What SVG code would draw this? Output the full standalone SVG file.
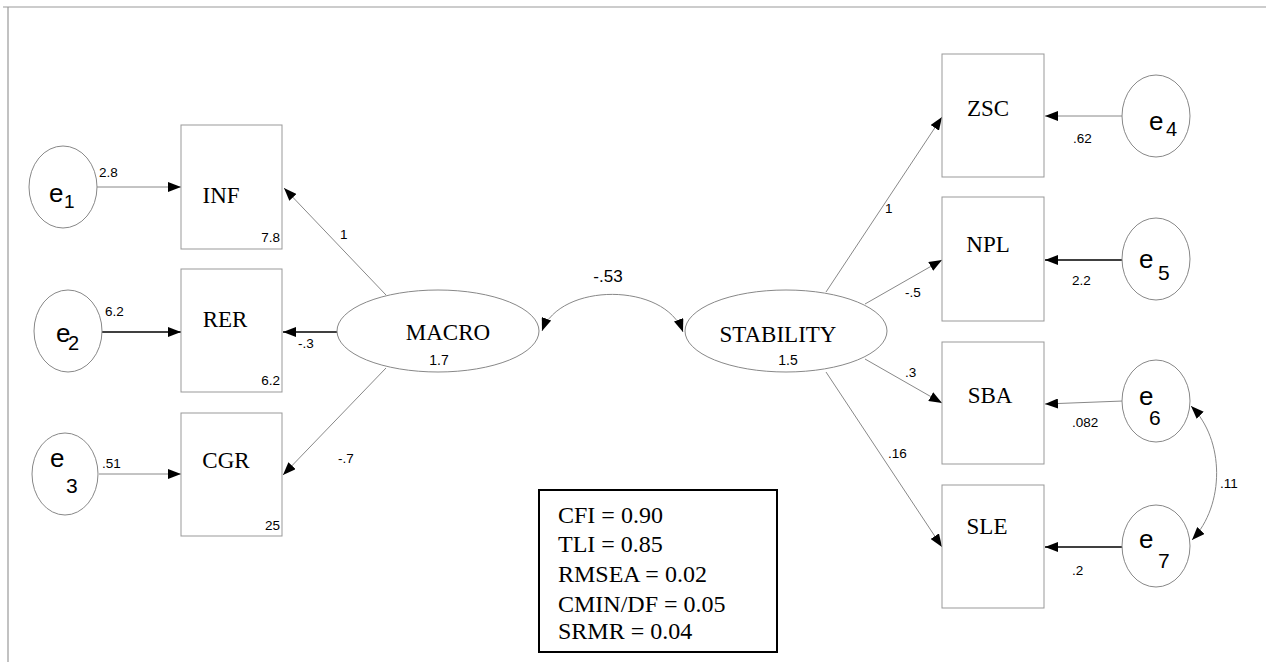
<svg xmlns="http://www.w3.org/2000/svg" width="1266" height="662" viewBox="0 0 1266 662">
<style>
.box{fill:#fff;stroke:#999;stroke-width:1}
.ell{fill:#fff;stroke:#888;stroke-width:1}
.nl{font-family:"Liberation Serif","Times New Roman",serif;font-size:23px;fill:#000;text-anchor:middle}
.el{font-family:"Liberation Sans",Arial,sans-serif;fill:#000}
.sm{font-family:"Liberation Sans",Arial,sans-serif;font-size:13.5px;fill:#000}
.thin{stroke:#888;stroke-width:1;fill:none}
.thick{stroke:#000;stroke-width:1.6;fill:none}
.fit{font-family:"Liberation Serif","Times New Roman",serif;font-size:24px;fill:#000}
</style>
<defs>
<marker id="ah" markerUnits="userSpaceOnUse" markerWidth="14" markerHeight="10" refX="13" refY="5" orient="auto-start-reverse">
<path d="M0,0 L13,5 L0,10 z" fill="#000"/>
</marker>
</defs>
<rect width="1266" height="662" fill="#fff"/>
<g id="frame">
<line x1="3" y1="7" x2="1266" y2="7" stroke="#999" stroke-width="1.2"/>
<line x1="8" y1="7" x2="8" y2="662" stroke="#999" stroke-width="1.2"/>
</g>
<g id="connectors">
<line class="thin" x1="97" y1="187" x2="181" y2="187" marker-end="url(#ah)"/>
<line class="thick" x1="102" y1="332" x2="181" y2="332" marker-end="url(#ah)"/>
<line class="thin" x1="99" y1="474" x2="181" y2="474" marker-end="url(#ah)"/>
<line class="thin" x1="386" y1="295" x2="284" y2="188" marker-end="url(#ah)"/>
<line class="thick" x1="337" y1="332" x2="283" y2="332" marker-end="url(#ah)"/>
<line class="thin" x1="386" y1="368" x2="283" y2="475" marker-end="url(#ah)"/>
<path class="thin" d="M542,331 C560,282 665,282 683,332" marker-start="url(#ah)" marker-end="url(#ah)"/>
<line class="thin" x1="826" y1="292" x2="942" y2="117" marker-end="url(#ah)"/>
<line class="thin" x1="865" y1="304" x2="942" y2="260" marker-end="url(#ah)"/>
<line class="thin" x1="865" y1="359" x2="942" y2="403" marker-end="url(#ah)"/>
<line class="thin" x1="826" y1="372" x2="942" y2="547" marker-end="url(#ah)"/>
<line class="thin" x1="1123" y1="116" x2="1045" y2="116" marker-end="url(#ah)"/>
<line class="thick" x1="1123" y1="260" x2="1045" y2="260" marker-end="url(#ah)"/>
<line class="thin" x1="1123" y1="401" x2="1045" y2="404" marker-end="url(#ah)"/>
<line class="thick" x1="1123" y1="547" x2="1045" y2="547" marker-end="url(#ah)"/>
<path class="thin" d="M1191,406 C1225,440 1225,505 1192,540" marker-start="url(#ah)" marker-end="url(#ah)"/>
<text class="sm" x="99" y="177">2.8</text>
<text class="sm" x="105" y="316">6.2</text>
<text class="sm" x="102" y="468">.51</text>
<text class="sm" x="340" y="239">1</text>
<text class="sm" x="298" y="348">-.3</text>
<text class="sm" x="338" y="463">-.7</text>
<text class="el" x="608" y="282" font-size="17" text-anchor="middle">-.53</text>
<text class="sm" x="885" y="213">1</text>
<text class="sm" x="905" y="297">-.5</text>
<text class="sm" x="905" y="377">.3</text>
<text class="sm" x="888" y="458">.16</text>
<text class="sm" x="1073" y="143">.62</text>
<text class="sm" x="1072" y="285">2.2</text>
<text class="sm" x="1072" y="427">.082</text>
<text class="sm" x="1072" y="575">.2</text>
<text class="sm" x="1220" y="488">.11</text>
</g>
<g id="e1"><ellipse class="ell" cx="63" cy="187" rx="34" ry="41"/><text class="el" x="49" y="202" font-size="26">e</text><text class="el" x="64" y="208" font-size="19">1</text></g>
<g id="e2"><ellipse class="ell" cx="68" cy="331" rx="34" ry="41"/><text class="el" x="56" y="342" font-size="26">e</text><text class="el" x="68" y="350" font-size="20">2</text></g>
<g id="e3"><ellipse class="ell" cx="65" cy="474" rx="33" ry="41"/><text class="el" x="50" y="467" font-size="26">e</text><text class="el" x="66" y="493" font-size="21">3</text></g>
<g id="INF"><rect class="box" x="181" y="125" width="101" height="124"/><text class="nl" x="221" y="203">INF</text><text class="sm" x="280" y="242" text-anchor="end">7.8</text></g>
<g id="RER"><rect class="box" x="181" y="269" width="101" height="123"/><text class="nl" x="225" y="327">RER</text><text class="sm" x="280" y="385" text-anchor="end">6.2</text></g>
<g id="CGR"><rect class="box" x="181" y="413" width="101" height="123"/><text class="nl" x="226" y="468">CGR</text><text class="sm" x="280" y="530" text-anchor="end">25</text></g>
<g id="MACRO"><ellipse class="ell" cx="438" cy="331" rx="101" ry="41"/><text class="nl" x="448" y="340">MACRO</text><text class="el" x="439" y="365" font-size="14" text-anchor="middle">1.7</text></g>
<g id="STABILITY"><ellipse class="ell" cx="786" cy="331" rx="101" ry="41"/><text class="nl" x="778" y="342">STABILITY</text><text class="el" x="788" y="365" font-size="14" text-anchor="middle">1.5</text></g>
<g id="ZSC"><rect class="box" x="942" y="54" width="102" height="123"/><text class="nl" x="988" y="116">ZSC</text></g>
<g id="NPL"><rect class="box" x="942" y="197" width="102" height="124"/><text class="nl" x="988" y="252">NPL</text></g>
<g id="SBA"><rect class="box" x="942" y="342" width="102" height="122"/><text class="nl" x="990" y="403">SBA</text></g>
<g id="SLE"><rect class="box" x="942" y="485" width="102" height="123"/><text class="nl" x="987" y="534">SLE</text></g>
<g id="e4"><ellipse class="ell" cx="1156" cy="116" rx="34" ry="41"/><text class="el" x="1149" y="130" font-size="26">e</text><text class="el" x="1166" y="136" font-size="20">4</text></g>
<g id="e5"><ellipse class="ell" cx="1156" cy="259" rx="34" ry="41"/><text class="el" x="1139" y="268" font-size="26">e</text><text class="el" x="1158" y="280" font-size="21">5</text></g>
<g id="e6"><ellipse class="ell" cx="1156" cy="401" rx="34" ry="41"/><text class="el" x="1139" y="405" font-size="26">e</text><text class="el" x="1149" y="425" font-size="21">6</text></g>
<g id="e7"><ellipse class="ell" cx="1156" cy="546" rx="34" ry="41"/><text class="el" x="1139" y="548" font-size="26">e</text><text class="el" x="1158" y="568" font-size="21">7</text></g>
<g id="fit">
<rect x="539" y="490" width="238" height="162" fill="#fff" stroke="#000" stroke-width="2"/>
<text class="fit" x="558" y="523">CFI = 0.90</text>
<text class="fit" x="558" y="552">TLI = 0.85</text>
<text class="fit" x="558" y="582">RMSEA = 0.02</text>
<text class="fit" x="558" y="612">CMIN/DF = 0.05</text>
<text class="fit" x="558" y="639">SRMR = 0.04</text>
</g>
</svg>
